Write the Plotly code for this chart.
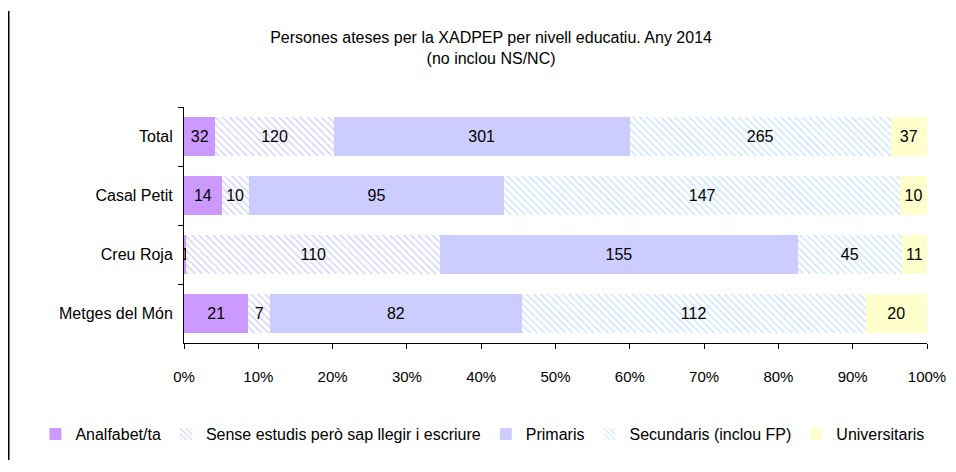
import plotly.graph_objects as go

categories = ["Total", "Casal Petit", "Creu Roja", "Metges del Món"]
series_names = ["Analfabet/ta", "Sense estudis però sap llegir i escriure", "Primaris",
                "Secundaris (inclou FP)", "Universitaris"]
analfabet = [32, 14, 1, 21]
sense_estudis = [120, 10, 110, 7]
primaris = [301, 95, 155, 82]
secundaris = [265, 147, 45, 112]
universitaris = [37, 10, 11, 20]
tick_vals = [0, 10, 20, 30, 40, 50, 60, 70, 80, 90, 100]
tick_text = ["0%", "10%", "20%", "30%", "40%", "50%", "60%", "70%", "80%", "90%", "100%"]

values = [analfabet, sense_estudis, primaris, secundaris, universitaris]
styles = [
    dict(color="#CC99FF"),
    dict(color="#FFFFFF", pattern=dict(shape="\\", fgcolor="#A8A8FF", bgcolor="#FFFFFF", size=5, solidity=0.3)),
    dict(color="#CCCCFF"),
    dict(color="#FFFFFF", pattern=dict(shape="\\", fgcolor="#99CCFF", bgcolor="#FFFFFF", size=5, solidity=0.3)),
    dict(color="#FFFFCC"),
]

FONT = "Liberation Sans, Arial, sans-serif"
fig = go.Figure()
for name, vals, st in zip(series_names, values, styles):
    fig.add_trace(go.Bar(
        y=categories, x=vals, name=name, orientation="h",
        marker=dict(line=dict(width=0), **st),
        text=[str(v) for v in vals], textposition="inside", insidetextanchor="middle",
        constraintext="none", textangle=0,
        textfont=dict(color="black", size=16, family=FONT),
    ))

# page has an 8px body margin, so the figure is placed at (8, 8)
W, H, L, R, T, B = 938, 452, 176, 19, 99, 117
pw, ph = W - L - R, H - T - B


def px_x(p):
    return (p - L) / pw


def px_y(p):
    return (H - B - p) / ph


fig.update_layout(
    barmode="stack", barnorm="percent", bargap=0.33,
    width=W, height=H,
    margin=dict(l=L, r=R, t=T, b=B, autoexpand=False),
    paper_bgcolor="white", plot_bgcolor="white",
    font=dict(family=FONT, size=16, color="black"),
    title=dict(text="Persones ateses per la XADPEP per nivell educatiu. Any 2014<br>(no inclou NS/NC)",
               x=0.515, xanchor="center", y=1 - 35 / H, yanchor="middle",
               font=dict(size=16, family=FONT, color="black")),
    showlegend=True,
    legend=dict(orientation="h", x=-0.2, xanchor="left", y=px_y(426), yanchor="middle",
                font=dict(size=16, family=FONT), traceorder="normal", itemwidth=30,
                tracegroupgap=0),
    xaxis=dict(range=[0, 100], tickvals=tick_vals, ticktext=tick_text, showgrid=False,
               zeroline=False, showline=True, linecolor="black", linewidth=1,
               ticks="outside", ticklen=5, tickcolor="black", tickfont=dict(size=15),
               ticklabelstandoff=15, ticklabeloverflow="allow", automargin=False),
    yaxis=dict(autorange="reversed", showgrid=False, showline=True, linecolor="black", linewidth=1,
               ticks="outside", ticklen=5, tickcolor="black", tickson="boundaries",
               tickfont=dict(size=16), ticklabelstandoff=7, automargin=False),
    shapes=[
        dict(type="rect", xref="paper", yref="paper", x0=px_x(0), x1=px_x(1.5),
             y0=px_y(H), y1=px_y(3), fillcolor="black", line=dict(width=0)),
    ],
)

fig.write_html("out.html")
